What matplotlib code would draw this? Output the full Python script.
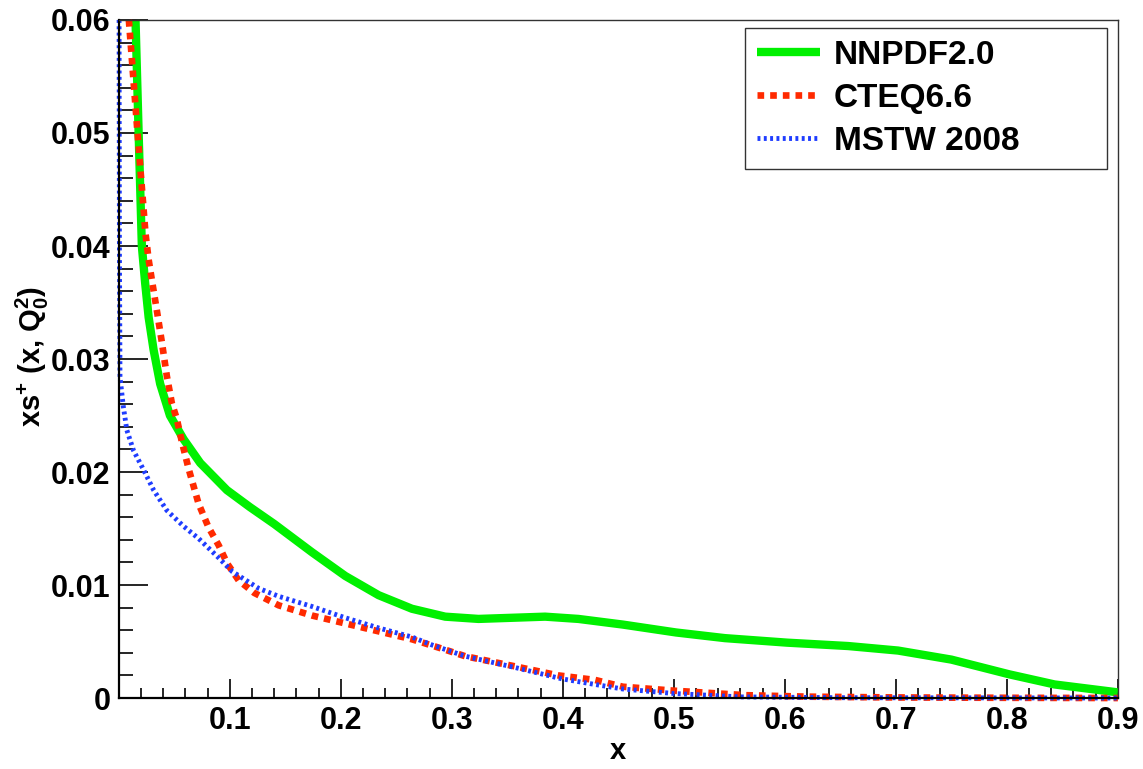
import matplotlib
matplotlib.use("Agg")
import matplotlib.pyplot as plt
from matplotlib.ticker import MultipleLocator, FixedLocator

plt.rcParams['font.family'] = ['Liberation Sans', 'DejaVu Sans']
plt.rcParams['font.weight'] = 'bold'
plt.rcParams['mathtext.fontset'] = 'custom'
plt.rcParams['mathtext.rm'] = 'Liberation Sans:bold'
plt.rcParams['mathtext.it'] = 'Liberation Sans:bold'
plt.rcParams['mathtext.bf'] = 'Liberation Sans:bold'
plt.rcParams['mathtext.default'] = 'rm'

# NNPDF2.0
x_nnpdf = [0.015, 0.0178, 0.0207, 0.0237, 0.0268, 0.0313, 0.0372, 0.046, 0.0583, 0.0733,
           0.0973, 0.118, 0.140, 0.174, 0.204, 0.234, 0.264, 0.294, 0.324, 0.354,
           0.384, 0.414, 0.454, 0.502, 0.546, 0.602, 0.657, 0.702, 0.750, 0.802,
           0.843, 0.900]
y_nnpdf = [0.0600, 0.0500, 0.0400, 0.0367, 0.0337, 0.0308, 0.0278, 0.0250, 0.0229, 0.0208,
           0.0184, 0.0169, 0.0154, 0.0129, 0.0108, 0.0091, 0.0079, 0.0072, 0.0070, 0.0071,
           0.0072, 0.0070, 0.0065, 0.0058, 0.0053, 0.0049, 0.0046, 0.0042, 0.0034, 0.0021,
           0.0012, 0.0005]

# CTEQ6.6
x_cteq = [0.009, 0.0165, 0.024, 0.0268, 0.0297, 0.0342, 0.0387, 0.0432, 0.0477, 0.0522,
          0.0567, 0.0628, 0.0718, 0.0808, 0.090, 0.0976, 0.108, 0.122, 0.144, 0.174,
          0.204, 0.234, 0.264, 0.290, 0.312, 0.357, 0.396, 0.429, 0.454, 0.500,
          0.565, 0.620, 0.700, 0.800, 0.900]
y_cteq = [0.0600, 0.0504, 0.0411, 0.0388, 0.0370, 0.0343, 0.0315, 0.0285, 0.0261, 0.0247,
          0.0227, 0.0203, 0.0172, 0.0151, 0.0135, 0.0119, 0.0104, 0.0093, 0.0082, 0.0073,
          0.0066, 0.0059, 0.0052, 0.0044, 0.0037, 0.0028, 0.0020, 0.0016, 0.0010, 0.00065,
          0.00025, 0.00012, 0.00005, 0.00002, 0.0]

# MSTW 2008
x_mstw = [0.0002, 0.0005, 0.001, 0.004, 0.0072, 0.0132, 0.0222, 0.0313, 0.0432, 0.0583,
          0.072, 0.090, 0.102, 0.126, 0.144, 0.174, 0.204, 0.234, 0.264, 0.282,
          0.312, 0.357, 0.399, 0.429, 0.454, 0.500, 0.560, 0.650, 0.900]
y_mstw = [0.0600, 0.0400, 0.0284, 0.0258, 0.0237, 0.0219, 0.0202, 0.0184, 0.0166, 0.0152,
          0.0141, 0.0124, 0.0112, 0.0097, 0.0090, 0.0081, 0.0071, 0.0062, 0.0054, 0.0047,
          0.0037, 0.0027, 0.0017, 0.0012, 0.0008, 0.0004, 0.0001, 0.00003, 0.0]

x_ticks = [0.1, 0.2, 0.3, 0.4, 0.5, 0.6, 0.7, 0.8, 0.9]
x_ticklabels = ['0.1', '0.2', '0.3', '0.4', '0.5', '0.6', '0.7', '0.8', '0.9']
y_ticks = [0, 0.01, 0.02, 0.03, 0.04, 0.05, 0.06]
y_ticklabels = ['0', '0.01', '0.02', '0.03', '0.04', '0.05', '0.06']

fig = plt.figure(figsize=(11.43, 7.69), dpi=100)
ax = fig.add_axes([0.104, 0.0923, 0.874, 0.8817])

ax.plot(x_nnpdf, y_nnpdf, color='#00f000', lw=6, solid_capstyle='butt',
        solid_joinstyle='round', clip_on=False, label='NNPDF2.0')
ax.plot(x_cteq, y_cteq, color='#ff2a00', lw=4.8, linestyle=(0, (1, 0.9)),
        dash_capstyle='butt', clip_on=False, label='CTEQ6.6')
ax.plot(x_mstw, y_mstw, color='#1f3dff', lw=3.5, linestyle=(0, (0.6, 0.7)),
        dash_capstyle='butt', clip_on=False, label='MSTW 2008')

ax.set_xlim(0, 0.9)
ax.set_ylim(0, 0.06)

ax.xaxis.set_major_locator(FixedLocator(x_ticks))
ax.xaxis.set_minor_locator(MultipleLocator(0.02))
ax.set_xticklabels(x_ticklabels)
ax.set_yticks(y_ticks)
ax.set_yticklabels(y_ticklabels)
ax.yaxis.set_minor_locator(MultipleLocator(0.002))

ax.tick_params(axis='both', which='both', direction='in', top=False, right=False,
               labelsize=22, width=1.2)
ax.tick_params(axis='y', which='major', length=21, pad=6)
ax.tick_params(axis='y', which='minor', length=10)
ax.tick_params(axis='x', which='major', length=14, pad=6)
ax.tick_params(axis='x', which='minor', length=7)

for s in ['left', 'bottom']:
    ax.spines[s].set_linewidth(1.6)
    ax.spines[s].set_color('black')
for s in ['top', 'right']:
    ax.spines[s].set_linewidth(1.0)
    ax.spines[s].set_color('#333333')

ax.set_xlabel('x', fontsize=21, fontweight='bold')
ax.xaxis.set_label_coords(0.5, -0.058)
ax.set_ylabel(r'xs$^{+}$ (x, Q$_{0}^{2}$)', fontsize=21, fontweight='bold')
ax.yaxis.set_label_coords(-0.068, 0.503)

# legend box spans a fixed region, entries left-aligned inside
leg = ax.legend(loc='upper left', bbox_to_anchor=(0.6266, 0.7788, 0.3624, 0.2094),
                mode='expand', fontsize=24, frameon=True, fancybox=False,
                borderaxespad=0, handlelength=1.9, labelspacing=0.36,
                borderpad=0.36, handletextpad=0.4)
leg.get_frame().set_edgecolor('black')
leg.get_frame().set_linewidth(1.0)

fig.savefig('out.png', dpi=100)
